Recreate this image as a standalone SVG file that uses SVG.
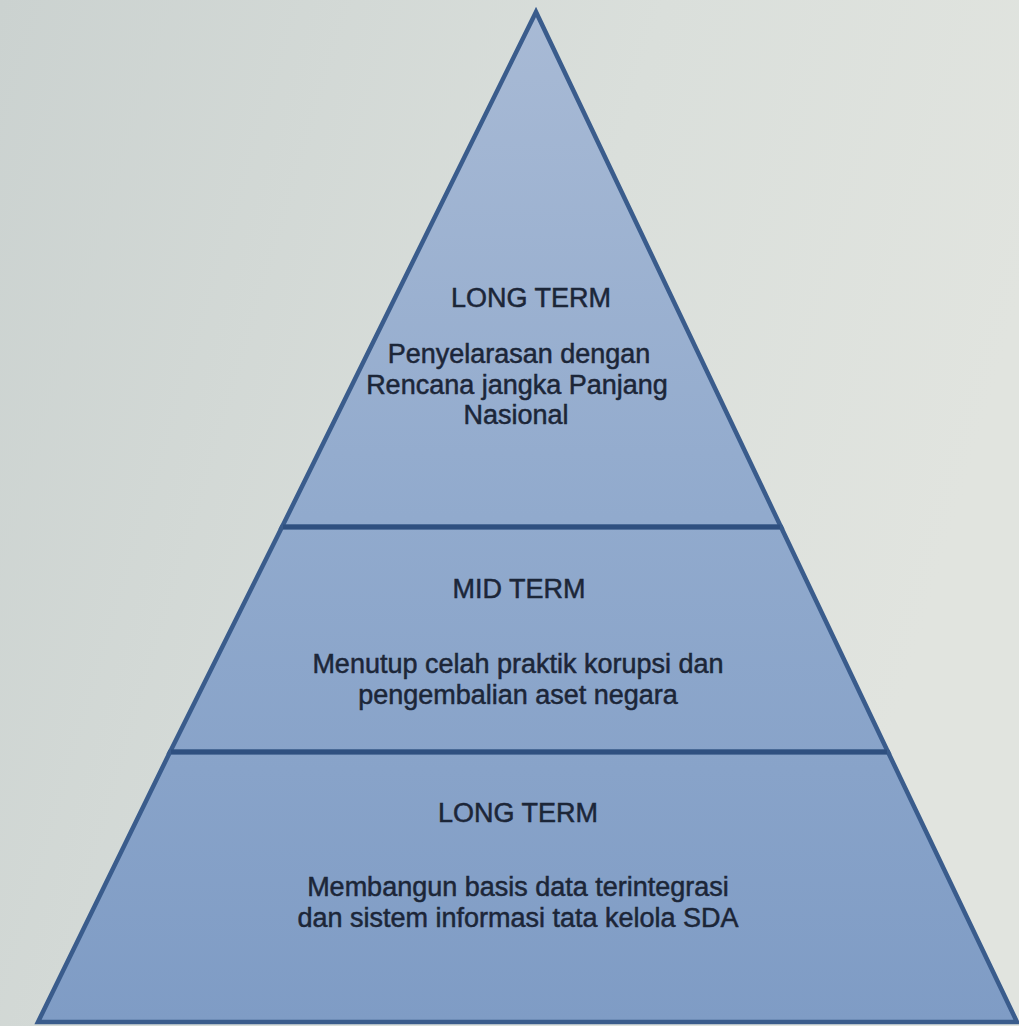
<svg xmlns="http://www.w3.org/2000/svg" width="1019" height="1026" viewBox="0 0 1019 1026">
  <defs>
    <linearGradient id="bg" x1="0" y1="0" x2="1" y2="0.3">
      <stop offset="0" stop-color="#cbd2d0"/>
      <stop offset="0.6" stop-color="#dadfdb"/>
      <stop offset="1" stop-color="#e1e4df"/>
    </linearGradient>
    <linearGradient id="pf" gradientUnits="userSpaceOnUse" x1="0" y1="12" x2="0" y2="1022">
      <stop offset="0" stop-color="#a8bad5"/>
      <stop offset="0.5" stop-color="#91aacd"/>
      <stop offset="1" stop-color="#7f9cc5"/>
    </linearGradient>
  </defs>
  <style>
    .tier { fill: url(#pf); stroke: #3a5c8c; stroke-width: 4.5; stroke-linejoin: miter; }
    .title, .body { font-family: "Liberation Sans", Arial, sans-serif; font-size: 27px; fill: #1c2638; stroke: #1c2638; stroke-width: 0.5; text-anchor: middle; }
    .divider { stroke: #2f5080; stroke-width: 5; }
  </style>
  <rect x="0" y="0" width="1019" height="1026" fill="url(#bg)"/>

  <g id="tier-top">
    <polygon class="tier" points="536,12 282,527 781,527"/>
    <text class="title" x="531" y="307">LONG TERM</text>
    <text class="body" x="519" y="363" font-size="26">Penyelarasan dengan</text>
    <text class="body" x="517" y="394" font-size="26">Rencana jangka Panjang</text>
    <text class="body" x="516" y="424" font-size="26">Nasional</text>
  </g>

  <g id="tier-mid">
    <polygon class="tier" points="282,527 781,527 888,752 170,752"/>
    <text class="title" x="519" y="598">MID TERM</text>
    <text class="body" x="518" y="673">Menutup celah praktik korupsi dan</text>
    <text class="body" x="518" y="704">pengembalian aset negara</text>
  </g>

  <g id="tier-bottom">
    <polygon class="tier" points="170,752 888,752 1017,1022 38,1022"/>
    <text class="title" x="518" y="822">LONG TERM</text>
    <text class="body" x="518" y="896">Membangun basis data terintegrasi</text>
    <text class="body" x="518" y="927">dan sistem informasi tata kelola SDA</text>
  </g>

  <g id="connectors">
    <line class="divider" x1="283" y1="527" x2="780" y2="527"/>
    <line class="divider" x1="171" y1="752" x2="887" y2="752"/>
  </g>
</svg>
